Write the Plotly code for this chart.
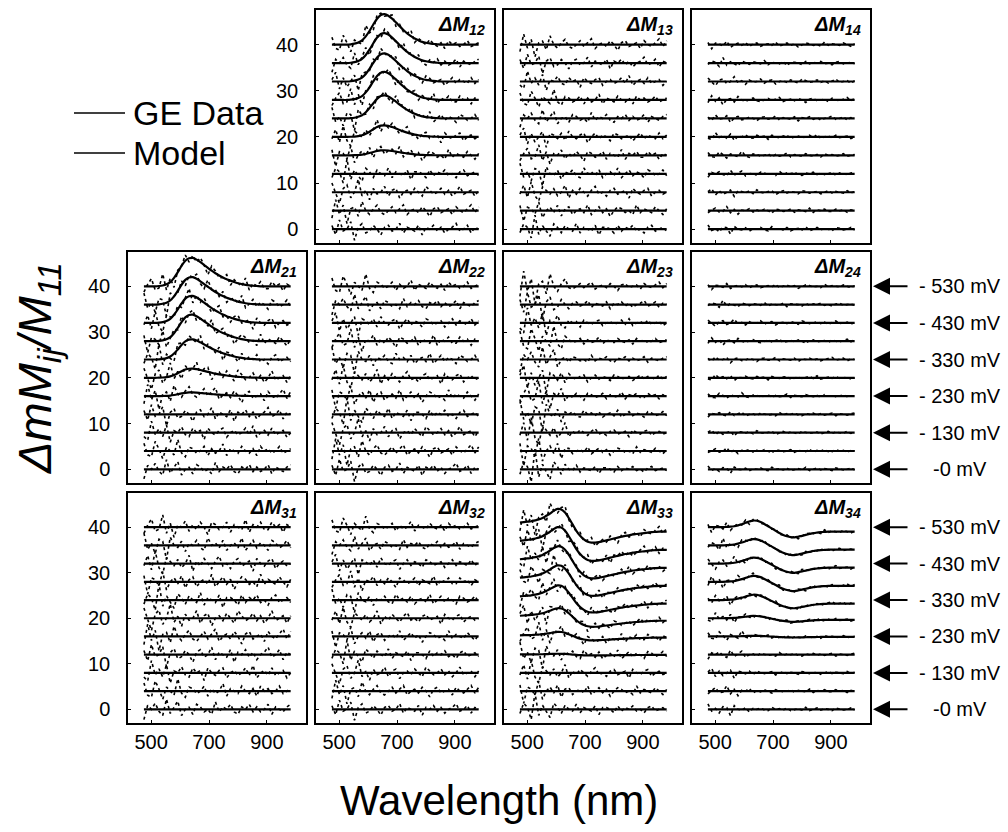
import plotly.graph_objects as go

W, H = 1008, 832

# ---------------- data ----------------
WAVELENGTH = [475, 488, 501, 514, 527, 540, 553, 566, 579, 592,
              605, 618, 631, 644, 657, 670, 683, 696, 709, 722,
              735, 748, 761, 774, 787, 800, 813, 826, 839, 852,
              865, 878, 891, 904, 917, 930, 943, 956, 969, 982]

OFFSETS = [0, 4, 8, 12, 16, 20, 24, 28, 32, 36, 40]
PANELS = ["12", "13", "14", "21", "22", "23", "24", "31", "32", "33", "34"]
PANEL_POS = {"12": (0, 1), "13": (0, 2), "14": (0, 3),
             "21": (1, 0), "22": (1, 1), "23": (1, 2), "24": (1, 3),
             "31": (2, 0), "32": (2, 1), "33": (2, 2), "34": (2, 3)}

SHAPE_M12 = [0, 0, 0, 0, 0, 0.01, 0.03, 0.07, 0.14, 0.27,
             0.45, 0.66, 0.85, 0.97, 1.0, 0.95, 0.85, 0.73, 0.6, 0.48,
             0.37, 0.28, 0.2, 0.14, 0.09, 0.06, 0.04, 0.02, 0.01, 0,
             0, 0, 0, 0, 0, 0, 0, 0, 0, 0]
SHAPE_M21 = [0, 0, 0, 0, 0.01, 0.03, 0.07, 0.15, 0.3, 0.5,
             0.72, 0.9, 0.99, 1.0, 0.94, 0.85, 0.75, 0.65, 0.55, 0.46,
             0.38, 0.31, 0.25, 0.2, 0.15, 0.11, 0.08, 0.05, 0.03, 0.02,
             0.01, 0, 0, 0, 0, 0, 0, 0, 0, 0]
SHAPE_M33 = [1.0, 1.1, 1.2, 1.3, 1.5, 1.7, 2.0, 2.5, 3.0, 3.6,
             4.0, 3.9, 3.2, 2.0, 0.6, -0.8, -1.9, -2.7, -3.2, -3.4,
             -3.4, -3.3, -3.1, -2.9, -2.7, -2.5, -2.3, -2.1, -1.9, -1.8,
             -1.6, -1.5, -1.4, -1.3, -1.2, -1.1, -1.05, -1.0, -1.0, -1.0]
SHAPE_M34 = [0, 0, 0, 0, 0, 0.05, 0.1, 0.2, 0.4, 0.65,
             0.95, 1.25, 1.45, 1.4, 1.15, 0.7, 0.2, -0.3, -0.8, -1.3,
             -1.7, -2.0, -2.2, -2.25, -2.1, -1.9, -1.7, -1.5, -1.3, -1.2,
             -1.1, -1.05, -1.0, -1.0, -1.0, -1.0, -1.0, -1.0, -1.0, -1.0]
FLAT = [0] * 40

# peak scale for each offset trace (offset 0 .. 40)
AMP_M12 = [0, 0, 0, 0, 1.1, 2.5, 5.0, 6.1, 6.1, 6.5, 6.6]
AMP_M21 = [0, 0, 0, 0, 0.8, 2.0, 4.4, 5.8, 5.9, 6.0, 6.2]
AMP_M33 = [0, 0, 0, 0.05, 0.25, 0.55, 0.8, 0.9, 0.95, 1.0, 1.0]
AMP_M34 = [0, 0, 0, 0, 0.1, 0.35, 0.8, 0.9, 0.9, 0.95, 1.0]
AMP_ZERO = [0] * 11

MODEL = {"12": (SHAPE_M12, AMP_M12), "13": (FLAT, AMP_ZERO), "14": (FLAT, AMP_ZERO),
         "21": (SHAPE_M21, AMP_M21), "22": (FLAT, AMP_ZERO), "23": (FLAT, AMP_ZERO),
         "24": (FLAT, AMP_ZERO), "31": (FLAT, AMP_ZERO), "32": (FLAT, AMP_ZERO),
         "33": (SHAPE_M33, AMP_M33), "34": (SHAPE_M34, AMP_M34)}

# hand-estimated residual patterns of the measured (GE) data
RESID = [
    [2, -3, 5, -1, 0, 4, -6, 1, 3, -2, -1, 2, 0, -3, 1, 2, -1, 0, 3, -2,
     1, 0, -1, 2, -3, 1, 0, 2, -1, 1, -2, 0, 1, 3, -1, 0, 2, -2, 1, 0],
    [-4, 6, -2, 3, -7, 1, 2, -3, 5, 0, -2, 1, 3, -1, -2, 0, 2, -1, 1, 3,
     -2, 0, 1, -1, 2, 0, -3, 1, 2, -1, 0, 1, -2, 2, 0, -1, 1, 3, -1, 2],
    [5, -1, -6, 2, 4, -3, 0, 7, -2, 1, -4, 2, -1, 0, 3, -2, 1, 2, -3, 0,
     1, -1, 2, 0, -2, 3, 1, -1, 0, 2, -1, 1, -2, 0, 3, -1, 0, 1, -2, 1],
    [-2, 3, 1, -5, 8, -3, 2, -1, -4, 3, 1, -2, 2, 0, -1, 3, -2, 1, 0, -1,
     2, -3, 1, 1, 0, -2, 2, -1, 1, 0, 2, -1, 0, -2, 1, 2, -1, 0, 1, -1],
    [3, -6, 2, 1, -2, 5, -4, 0, 2, -1, 3, -3, 1, 2, -2, 0, 1, -1, 3, -2,
     0, 2, -1, 1, -3, 0, 2, 1, -1, 0, -2, 3, -1, 1, 0, -1, 2, 0, -2, 1],
    [-1, 4, -3, 6, -2, -5, 3, 1, -1, 2, -2, 0, 4, -3, 1, -1, 2, 0, -2, 1,
     3, -1, 0, -2, 1, 2, -1, 0, 1, -3, 2, 0, -1, 1, 2, -2, 0, 1, -1, 0],
    [6, -2, 1, -4, 3, 2, -7, 4, 0, -1, 2, -3, 1, 0, 2, -1, -2, 3, 0, 1,
     -1, 2, -2, 0, 1, -1, 3, -2, 0, 2, -1, 1, 0, -2, 2, 1, -1, 0, 2, -1],
    [-3, 1, 4, -2, -1, 6, -3, 2, -5, 1, 0, 3, -2, 1, -1, 2, 0, -3, 2, 1,
     -1, 0, 2, -2, 1, 0, -1, 3, -2, 1, 0, 2, -1, -1, 2, 0, 1, -2, 1, 0],
    [1, 5, -4, 2, -3, 0, 3, -6, 2, 1, -1, 2, -2, 3, 0, -1, 1, 2, -3, 0,
     2, -1, 1, 0, -2, 2, 1, -1, 0, 1, -2, 0, 2, -1, 1, 0, -1, 2, -1, 1],
    [-5, 2, 0, 3, -1, -3, 5, -2, 1, 4, -3, 0, 1, -2, 2, 1, -1, 0, -2, 3,
     -1, 1, 0, 2, -1, -2, 1, 0, 2, -1, 1, -1, 0, 2, -2, 1, 0, -1, 1, 2],
    [4, -2, -3, 5, 1, -4, 2, 0, -2, 6, -1, -3, 2, 1, -1, 0, 2, -2, 1, -1,
     0, 3, -2, 1, 0, -1, 2, 0, -1, 1, -2, 2, 0, 1, -1, 0, 2, -1, 0, 1],
    [-2, -4, 6, -1, 2, -2, 4, -5, 1, 0, 3, -1, -2, 2, 0, 1, -3, 2, 0, -1,
     1, 2, -2, 0, 1, -1, 0, 2, -1, 3, -2, 0, 1, -1, 2, -1, 0, 1, -2, 0],
]
NOISE_SHORT = {"12": 0.4, "13": 0.38, "14": 0.15, "21": 0.42, "22": 0.45, "23": 0.55,
               "24": 0.12, "31": 0.45, "32": 0.4, "33": 0.45, "34": 0.2}
NOISE_LONG = {"12": 0.42, "13": 0.42, "14": 0.18, "21": 0.5, "22": 0.45, "23": 0.3,
              "24": 0.15, "31": 0.55, "32": 0.42, "33": 0.38, "34": 0.15}

Y_TICKS = [0, 10, 20, 30, 40]
X_TICKS = [500, 700, 900]
VOLT_OFFSETS = [40, 32, 24, 16, 8, 0]
VOLT_LABELS = ["- 530 mV", "- 430 mV", "- 330 mV", "- 230 mV", "- 130 mV", "-0 mV"]

# ---------------- layout geometry ----------------
COL_X = [(128, 306), (316, 494), (504, 682), (692, 870)]
ROW_Y = [(10, 243), (252, 483), (493, 723)]
FONT = "Arial, Liberation Sans, sans-serif"

fig = go.Figure()
layout = {}
annotations = []

for p, name in enumerate(PANELS):
    n = p + 1
    sfx = "" if n == 1 else str(n)
    r, c = PANEL_POS[name]
    shape, amps = MODEL[name]
    dx, dy, mx, my = [], [], [], []
    for t, off in enumerate(OFFSETS):
        seq = RESID[(3 * p + t) % len(RESID)]
        for i, wl in enumerate(WAVELENGTH):
            m = off + amps[t] * shape[i]
            k = NOISE_SHORT[name] if wl < 640 else NOISE_LONG[name]
            mx.append(wl); my.append(m)
            dx.append(wl); dy.append(m + k * seq[i])
        mx.append(None); my.append(None)
        dx.append(None); dy.append(None)
    fig.add_trace(go.Scatter(x=dx, y=dy, mode="lines", xaxis="x" + sfx, yaxis="y" + sfx,
                             line=dict(color="#000", width=1.6, dash="dot"),
                             showlegend=False, hoverinfo="skip"))
    fig.add_trace(go.Scatter(x=mx, y=my, mode="lines", xaxis="x" + sfx, yaxis="y" + sfx,
                             line=dict(color="#000", width=2.2, shape="spline"),
                             showlegend=False, hoverinfo="skip"))

    x0, x1 = COL_X[c]
    y0, y1 = ROW_Y[r]
    layout["xaxis" + sfx] = dict(
        domain=[x0 / W, x1 / W], anchor="y" + sfx, range=[420, 1035],
        showline=True, mirror=True, linecolor="#000", linewidth=1.5,
        showgrid=False, zeroline=False, tickvals=X_TICKS,
        ticks="inside", ticklen=3, tickcolor="#000",
        showticklabels=(r == 2), tickfont=dict(family=FONT, size=20, color="#000"))
    layout["yaxis" + sfx] = dict(
        domain=[1 - y1 / H, 1 - y0 / H], anchor="x" + sfx, range=[-3, 47.5],
        showline=True, mirror=True, linecolor="#000", linewidth=1.5,
        showgrid=False, zeroline=False, tickvals=Y_TICKS,
        ticks="inside", ticklen=3, tickcolor="#000",
        showticklabels=(c == 0 or name == "12"), ticklabelstandoff=12,
        tickfont=dict(family=FONT, size=20, color="#000"))
    annotations.append(dict(
        text="<b><i>ΔM<sub>%s</sub></i></b>" % name, xref="x%s domain" % sfx,
        yref="y%s domain" % sfx, x=0.96, y=0.995, xanchor="right", yanchor="top",
        showarrow=False, font=dict(family=FONT, size=20, color="#000")))

# voltage arrows on the right for rows 2 and 3
for sfx in ["7", "11"]:
    for off, lab in zip(VOLT_OFFSETS, VOLT_LABELS):
        annotations.append(dict(
            text="", xref="paper", yref="y" + sfx, x=873 / W, y=off,
            ax=36, ay=0, axref="pixel", ayref="pixel", showarrow=True,
            arrowhead=2, arrowsize=1.7, arrowwidth=2, arrowcolor="#000"))
        annotations.append(dict(
            text=lab, xref="paper", yref="y" + sfx, x=960 / W, y=off,
            xanchor="center", yanchor="middle", showarrow=False,
            font=dict(family=FONT, size=20, color="#000")))

# legend (top-left corner)
shapes = []
for yy, lab in [(113, "GE Data"), (153, "Model")]:
    shapes.append(dict(type="line", xref="paper", yref="paper",
                       x0=74 / W, x1=125 / W, y0=1 - yy / H, y1=1 - yy / H,
                       line=dict(color="#000", width=1.5)))
    annotations.append(dict(text=lab, xref="paper", yref="paper", x=131 / W, y=1 - yy / H,
                            xanchor="left", yanchor="middle", showarrow=False,
                            font=dict(family=FONT, size=34, color="#000")))

# axis titles
annotations.append(dict(text="<i>ΔmM<sub>ij</sub>/M<sub>11</sub></i>", xref="paper", yref="paper",
                        x=38 / W, y=1 - 368 / H, textangle=-90, xanchor="center",
                        yanchor="middle", showarrow=False,
                        font=dict(family=FONT, size=47, color="#000")))
annotations.append(dict(text="Wavelength (nm)", xref="paper", yref="paper",
                        x=499 / W, y=1 - 800 / H, xanchor="center", yanchor="middle",
                        showarrow=False, font=dict(family=FONT, size=42, color="#000")))

fig.update_layout(width=W, height=H, margin=dict(l=0, r=0, t=0, b=0),
                  paper_bgcolor="white", plot_bgcolor="white",
                  annotations=annotations, shapes=shapes, **layout)
fig.write_html("out.html")
